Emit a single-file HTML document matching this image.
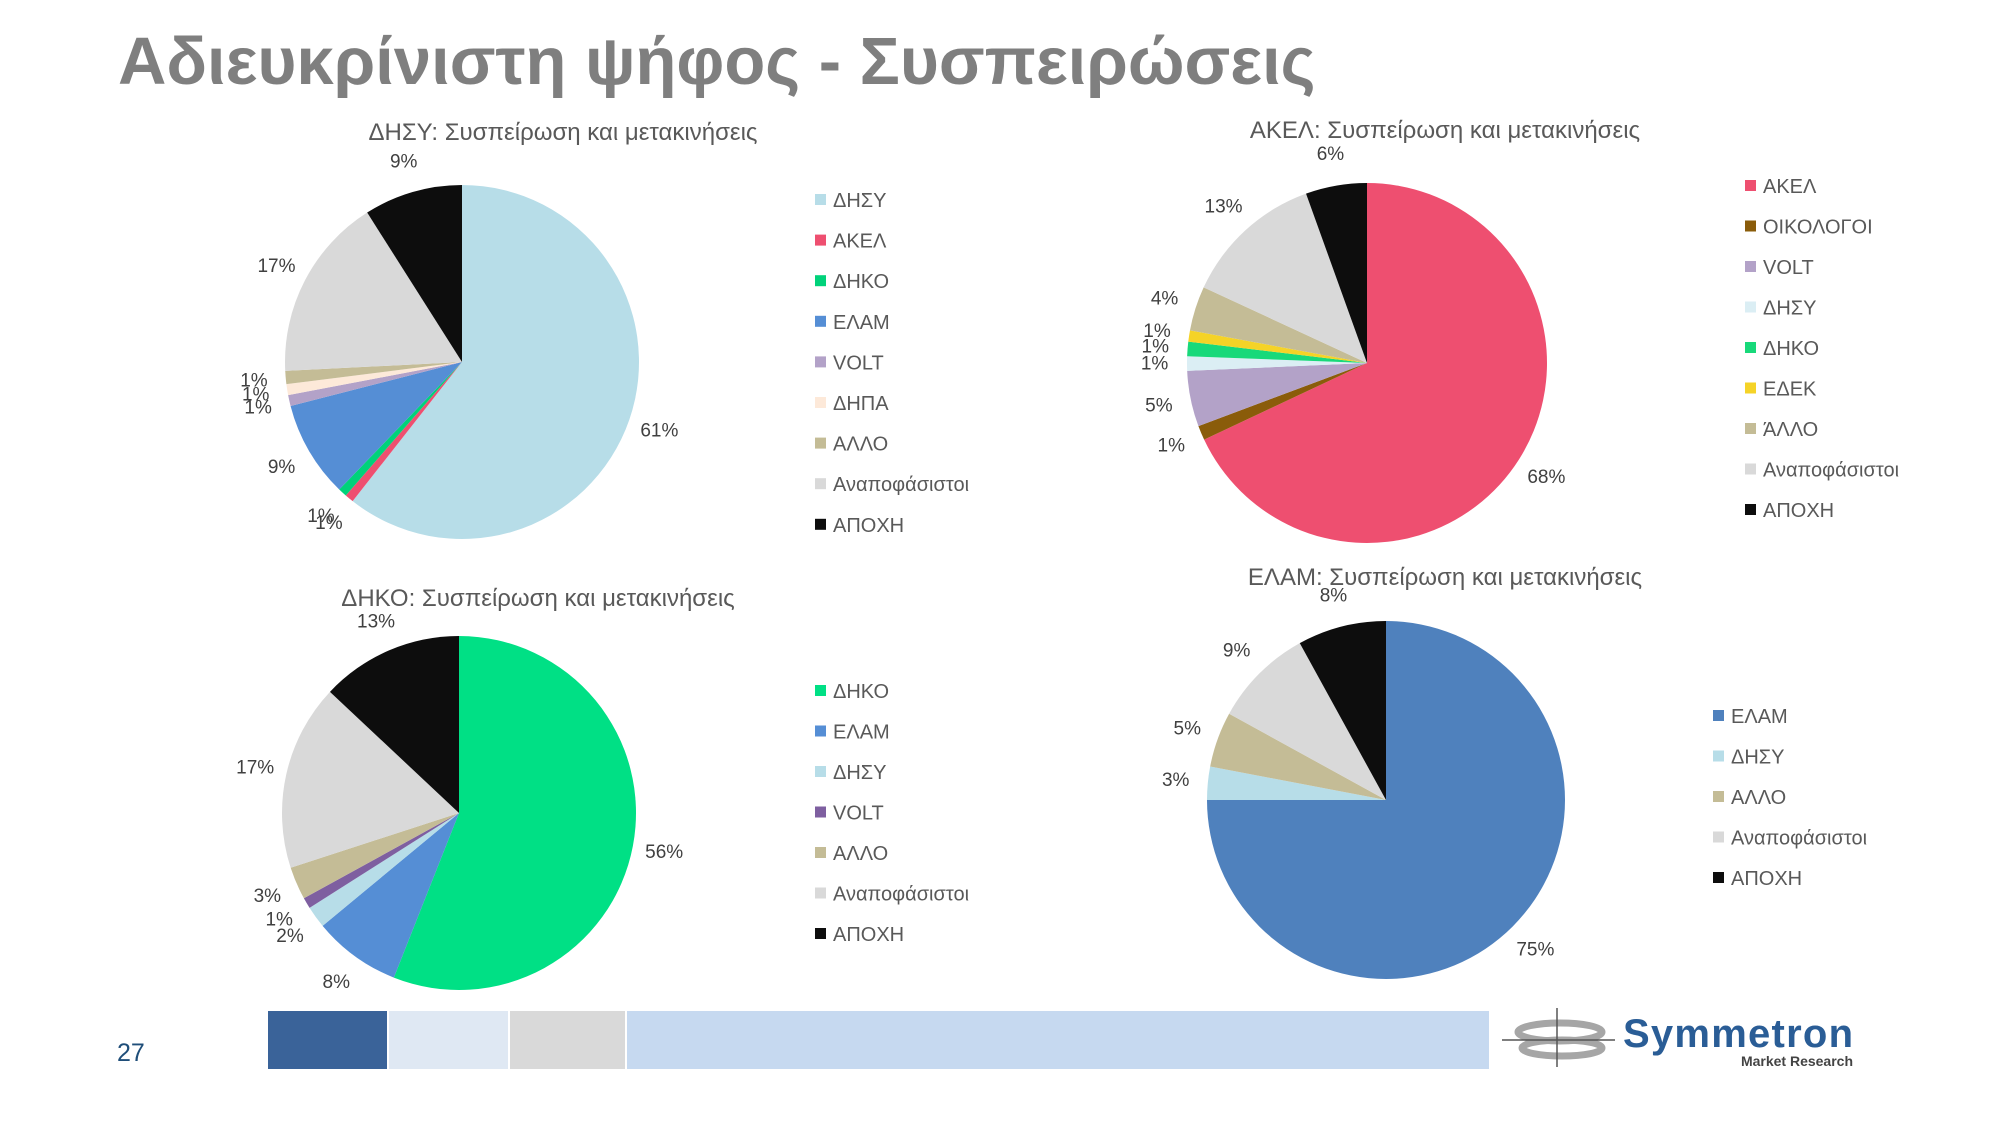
<!DOCTYPE html>
<html><head><meta charset="utf-8">
<style>
body{margin:0;background:#fff;}
svg text{font-family:"Liberation Sans","DejaVu Sans",sans-serif;}
</style></head>
<body>
<svg id="s" width="2000" height="1125" viewBox="0 0 2000 1125" xmlns="http://www.w3.org/2000/svg">
<text x="118" y="84" font-size="67" font-weight="bold" fill="#7f7f7f">Αδιευκρίνιστη ψήφος - Συσπειρώσεις</text>
<g id="charts"></g>
<text x="117" y="1061" font-size="25" fill="#1f4e79">27</text>
<rect x="268" y="1011" width="119" height="58" fill="#3a6399"/>
<rect x="389" y="1011" width="119" height="58" fill="#dfe8f3"/>
<rect x="510" y="1011" width="115" height="58" fill="#d9d9d9"/>
<rect x="627" y="1011" width="862" height="58" fill="#c6d9f0"/>
<g>
<ellipse cx="1560" cy="1032" rx="42" ry="9" fill="none" stroke="#a6a6a6" stroke-width="7"/>
<ellipse cx="1562" cy="1048" rx="40" ry="8" fill="none" stroke="#a6a6a6" stroke-width="7"/>
<line x1="1502" y1="1040" x2="1615" y2="1040" stroke="#555" stroke-width="1.5"/>
<line x1="1557" y1="1008" x2="1557" y2="1067" stroke="#555" stroke-width="1.5"/>
</g>
<text x="1623" y="1047" font-size="40" font-weight="bold" fill="#2a5d96" textLength="230">Symmetron</text>
<text x="1853" y="1066" font-size="14" font-weight="bold" fill="#444" text-anchor="end">Market Research</text>
</svg>
<script>
const dhsyCats=["ΔΗΣΥ","ΑΚΕΛ","ΔΗΚΟ","ΕΛΑΜ","VOLT","ΔΗΠΑ","ΑΛΛΟ","Αναποφάσιστοι","ΑΠΟΧΗ"];
const dhsyVals=[60.6,0.8,0.8,8.8,1.0,1.0,1.2,16.8,9.0];
const dhsyLabels=["61%","1%","1%","9%","1%","1%","1%","17%","9%"];
const dhsyColors=["#b7dde8","#ee4f70","#00d27a","#558ed5","#b3a2c8","#fde9d9","#c4bc96","#d9d9d9","#0d0d0d"];
const akelCats=["ΑΚΕΛ","ΟΙΚΟΛΟΓΟΙ","VOLT","ΔΗΣΥ","ΔΗΚΟ","ΕΔΕΚ","ΆΛΛΟ","Αναποφάσιστοι","ΑΠΟΧΗ"];
const akelVals=[68,1.3,5,1.3,1.3,1,4,12.6,5.5];
const akelLabels=["68%","1%","5%","1%","1%","1%","4%","13%","6%"];
const akelColors=["#ee4f70","#8a5c0a","#b3a2c8","#dbeef4","#18d97a","#f5d327","#c4bc96","#d9d9d9","#0d0d0d"];
const dhkoCats=["ΔΗΚΟ","ΕΛΑΜ","ΔΗΣΥ","VOLT","ΑΛΛΟ","Αναποφάσιστοι","ΑΠΟΧΗ"];
const dhkoVals=[56,8,2,1,3,17,13];
const dhkoLabels=["56%","8%","2%","1%","3%","17%","13%"];
const dhkoColors=["#00e085","#558ed5","#b7dde8","#7e5fa0","#c4bc96","#d9d9d9","#0d0d0d"];
const elamCats=["ΕΛΑΜ","ΔΗΣΥ","ΑΛΛΟ","Αναποφάσιστοι","ΑΠΟΧΗ"];
const elamVals=[75,3,5,9,8];
const elamLabels=["75%","3%","5%","9%","8%"];
const elamColors=["#4f81bd","#b7dde8","#c4bc96","#d9d9d9","#0d0d0d"];

const NS="http://www.w3.org/2000/svg";
const root=document.getElementById("charts");
function mk(tag,attrs,parent){const e=document.createElementNS(NS,tag);for(const k in attrs)e.setAttribute(k,attrs[k]);parent.appendChild(e);return e;}
function angleScale(v,total){return v/total*2*Math.PI;}
function pt(cx,cy,r,a){return [cx+r*Math.sin(a),cy-r*Math.cos(a)];}
function pie(key,title,tx,ty,cx,cy,r,cats,vals,labels,colors,lx,ly,step){
  const g=mk("g",{},root);
  
  
  const t=mk("text",{x:tx,y:ty,"font-size":24,fill:"#595959","text-anchor":"middle"},g);
  t.textContent=title;
  
  
  const total=vals.reduce((a,b)=>a+b,0);
  let a0=0;
  vals.forEach((v,i)=>{
    const a1=a0+angleScale(v,total);
    const p0=pt(cx,cy,r,a0),p1=pt(cx,cy,r,a1);
    const large=(a1-a0)>Math.PI?1:0;
    const p=mk("path",{d:`M${cx},${cy}L${p0[0]},${p0[1]}A${r},${r} 0 ${large} 1 ${p1[0]},${p1[1]}Z`,fill:colors[i]},g);
    
    
    const am=(a0+a1)/2;
    const lp=pt(cx,cy,r*1.18,am);
    const lt=mk("text",{x:lp[0],y:lp[1]+6,"font-size":19,fill:"#404040","text-anchor":"middle"},g);
    lt.textContent=labels[i];
    
    
    a0=a1;
  });
  cats.forEach((c,i)=>{
    const y=ly+i*step;
    const sq=mk("rect",{x:lx,y:y-6,width:11,height:11,fill:colors[i]},g);
    
    
    const lt=mk("text",{x:lx+18,y:y+7,"font-size":20,fill:"#595959"},g);
    lt.textContent=c;
    
    
  });
}
pie("dhsy","ΔΗΣΥ: Συσπείρωση και μετακινήσεις",563,140,462,362,177,dhsyCats,dhsyVals,dhsyLabels,dhsyColors,815,200,40.6);
pie("akel","ΑΚΕΛ: Συσπείρωση και μετακινήσεις",1445,138,1367,363,180,akelCats,akelVals,akelLabels,akelColors,1745,186,40.5);
pie("dhko","ΔΗΚΟ: Συσπείρωση και μετακινήσεις",538,606,459,813,177,dhkoCats,dhkoVals,dhkoLabels,dhkoColors,815,691,40.5);
pie("elam","ΕΛΑΜ: Συσπείρωση και μετακινήσεις",1445,585,1386,800,179,elamCats,elamVals,elamLabels,elamColors,1713,716,40.5);
</script>
</body></html>
